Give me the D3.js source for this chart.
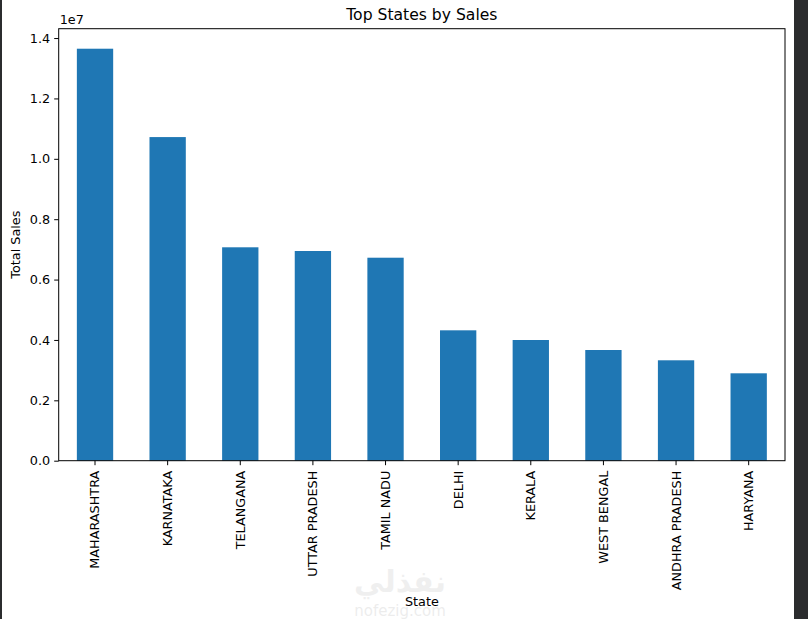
<!DOCTYPE html>
<html><head><meta charset="utf-8">
<script src="https://cdn.jsdelivr.net/npm/d3@7"></script>
<style>body{margin:0;background:#fff;overflow:hidden}svg{display:block}text{font-family:"DejaVu Sans",sans-serif}</style>
</head><body>
<svg id="c" width="808" height="619"></svg>
<script>
const states = ["MAHARASHTRA","KARNATAKA","TELANGANA","UTTAR PRADESH","TAMIL NADU","DELHI","KERALA","WEST BENGAL","ANDHRA PRADESH","HARYANA"];
const sales = [13647000,10720000,7069000,6946000,6724000,4319000,3998000,3667000,3326000,2895000];
const yTicks = [0,0.2e7,0.4e7,0.6e7,0.8e7,1.0e7,1.2e7,1.4e7];

const svg = d3.select("#c");
const L=58.7, R=785, T=28.7, B=460.7;
svg.append("rect").attr("x",794).attr("y",0).attr("width",14).attr("height",619).attr("fill","#2b2c2e");
svg.append("rect").attr("x",0).attr("y",0).attr("width",2).attr("height",619).attr("fill","#2b2c2e");

const x = d3.scaleBand().domain(states).range([L,R]).paddingInner(0.5).paddingOuter(0.25);
const y = d3.scaleLinear().domain([0,1.431e7]).range([B,T]);

svg.append("g").selectAll("rect").data(states).join("rect")
  .attr("x",d=>x(d)).attr("width",x.bandwidth())
  .attr("y",(d,i)=>y(sales[i])).attr("height",(d,i)=>B-y(sales[i]))
  .attr("fill","#1f77b4");

const yAxis = svg.append("g").attr("transform",`translate(${L},0)`)
  .call(d3.axisLeft(y).tickValues(yTicks).tickSize(4.5).tickPadding(4).tickFormat(d=>(d/1e7).toFixed(1)));
const xAxis = svg.append("g").attr("transform",`translate(0,${B})`)
  .call(d3.axisBottom(x).tickSize(4.5).tickPadding(4));
[yAxis,xAxis].forEach(a=>{a.select(".domain").remove();a.selectAll("line").attr("stroke","#000").attr("stroke-width",1);
  a.selectAll("text").attr("font-size","12.8px").attr("fill","#000").attr("font-family","DejaVu Sans");});
xAxis.selectAll("text").attr("transform","rotate(-90)").attr("text-anchor","end")
  .attr("x",-10).attr("y",0).attr("dy","0.35em");

svg.append("rect").attr("x",L).attr("y",T).attr("width",R-L).attr("height",B-T)
  .attr("fill","none").attr("stroke","#000").attr("stroke-width",1);

svg.append("text").attr("x",L+1).attr("y",24).attr("font-size","12.8px").text("1e7");
svg.append("text").attr("x",(L+R)/2).attr("y",20).attr("text-anchor","middle").attr("font-size","15.6px").text("Top States by Sales");
svg.append("text").attr("transform",`translate(20,${(T+B)/2}) rotate(-90)`).attr("text-anchor","middle").attr("font-size","12.8px").text("Total Sales");
svg.append("text").attr("x",(L+R)/2).attr("y",606).attr("text-anchor","middle").attr("font-size","12.8px").text("State");
svg.append("text").attr("x",400).attr("y",592).attr("text-anchor","middle").attr("font-size","30px").attr("font-weight","bold").attr("fill","#000").attr("opacity",0.06).attr("font-family","Noto Sans, DejaVu Sans").text("نفذلي");
svg.append("text").attr("x",400).attr("y",616).attr("text-anchor","middle").attr("font-size","15px").attr("fill","#000").attr("opacity",0.07).text("nofezig.com");
</script>
</body></html>
